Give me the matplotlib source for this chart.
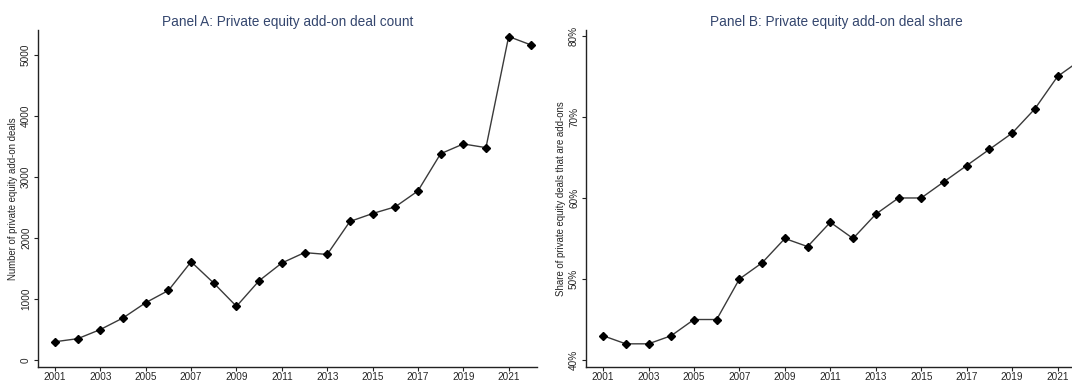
import matplotlib
matplotlib.use("Agg")
import matplotlib.pyplot as plt
from matplotlib.ticker import FuncFormatter

# add-on deal data by year
years = list(range(2001, 2023))
addon_count = [300, 350, 500, 690, 940, 1140, 1610, 1260, 880, 1300, 1590,
               1760, 1730, 2270, 2400, 2510, 2770, 3380, 3540, 3480, 5300, 5160]
addon_share = [43, 42, 42, 43, 45, 45, 50, 52, 55, 54, 57,
               55, 58, 60, 60, 62, 64, 66, 68, 71, 75, 77]
xticks = list(range(2001, 2022, 2))

plt.rcParams['font.family'] = ['Liberation Sans', 'DejaVu Sans']

W, H = 1072, 381
fig = plt.figure(figsize=(W / 100, H / 100), dpi=100)
fig.patch.set_facecolor('white')

title_col = '#34466e'
txt_col = '#262626'


def style_axis(ax):
    for s in ['top', 'right']:
        ax.spines[s].set_visible(False)
    for s in ['left', 'bottom']:
        ax.spines[s].set_color('#222222')
        ax.spines[s].set_linewidth(1.0)
    ax.tick_params(axis='both', direction='out', length=3, width=0.8,
                   colors='#222222', labelcolor=txt_col, labelsize=7.2, pad=2)
    ax.tick_params(axis='x', pad=0.3)
    ax.set_xticks(xticks)
    ax.set_xlim(2000.25, 2022.25)
    for lab in ax.get_yticklabels():
        lab.set_rotation(90)
        lab.set_va('center')


def draw_series(ax, vals):
    ax.plot(years, vals, color='#3a3a3a', lw=1.0, marker='D', ms=4.5,
            mfc='black', mec='black', clip_on=False)


# Panel A
axA = fig.add_axes([38 / W, 14 / H, 499 / W, 337 / H])
draw_series(axA, addon_count)
axA.set_ylim(-114, 5407)
axA.set_yticks([0, 1000, 2000, 3000, 4000, 5000])
style_axis(axA)
axA.set_ylabel('Number of private equity add-on deals', fontsize=6.9,
               color=txt_col, labelpad=2.5)
axA.set_title('Panel A: Private equity add-on deal count', fontsize=9.8,
              color=title_col, pad=3)

# Panel B (runs past the right edge)
axB = fig.add_axes([586 / W, 14 / H, 500 / W, 337 / H])
draw_series(axB, addon_share)
axB.set_ylim(39.14, 80.73)
axB.set_yticks([40, 50, 60, 70, 80])
axB.yaxis.set_major_formatter(FuncFormatter(lambda v, p: '%d%%' % v))
style_axis(axB)
axB.set_ylabel('Share of private equity deals that are add-ons', fontsize=6.9,
               color=txt_col, labelpad=2.5)
axB.set_title('Panel B: Private equity add-on deal share', fontsize=9.8,
              color=title_col, pad=3)

fig.savefig('out.png', dpi=100)
